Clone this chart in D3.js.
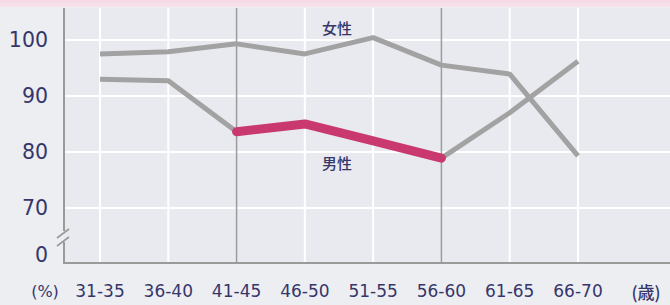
<!DOCTYPE html>
<html>
<head>
<meta charset="utf-8">
<script src="https://cdn.jsdelivr.net/npm/d3@7"></script>
<style>
  html, body { margin: 0; padding: 0; background: #eceef2; }
  svg { display: block; }
</style>
</head>
<body>
<svg id="chart" width="670" height="305"></svg>
<script>
const categories = ["31-35", "36-40", "41-45", "46-50", "51-55", "56-60", "61-65", "66-70"];
const female = [97.5, 97.9, 99.3, 97.5, 100.4, 95.5, 93.9, 79.3];
const male = [93.0, 92.7, 83.6, 85.0, 82.0, 78.9, 87.0, 96.2];
const highlightRange = ["41-45", "56-60"];
const yTicks = [0, 70, 80, 90, 100];
const seriesLabels = ["女性", "男性"];

const svg = d3.select("#chart");
const W = 670, H = 305;
const plotL = 64, plotR = 670, plotT = 8, plotB = 263;

const x = d3.scalePoint().domain(categories).range([100, 578]);
const y = d3.scaleLinear().domain([0, 70, 105.7]).range([255, 208, plotT]);

const navy = "#36366a";
const axisGray = "#9a9a9a";

// top pink band
const defs = svg.append("defs");
const grad = defs.append("linearGradient").attr("id", "pinkband").attr("x1", 0).attr("x2", 0).attr("y1", 0).attr("y2", 1);
grad.append("stop").attr("offset", "0%").attr("stop-color", "#f7d9e5");
grad.append("stop").attr("offset", "100%").attr("stop-color", "#f4e2ea");
svg.append("rect").attr("x", 0).attr("y", 0).attr("width", W).attr("height", 7).attr("fill", "url(#pinkband)");

// plot background
svg.append("rect").attr("x", plotL).attr("y", plotT).attr("width", plotR - plotL).attr("height", plotB - plotT).attr("fill", "#e8eaef");

// horizontal white gridlines
svg.append("g").selectAll("line").data(yTicks.filter(d => d > 0)).join("line")
  .attr("x1", plotL).attr("x2", plotR)
  .attr("y1", d => y(d)).attr("y2", d => y(d))
  .attr("stroke", "#ffffff").attr("stroke-width", 2);

// vertical gridlines
svg.append("g").selectAll("line").data(categories).join("line")
  .attr("x1", d => x(d)).attr("x2", d => x(d))
  .attr("y1", plotT).attr("y2", plotB)
  .attr("stroke", d => highlightRange.includes(d) ? "#9c9c9c" : "#ffffff")
  .attr("stroke-width", d => highlightRange.includes(d) ? 1.5 : 2);

// axes lines
svg.append("line").attr("x1", plotL).attr("x2", plotR).attr("y1", plotB).attr("y2", plotB)
  .attr("stroke", axisGray).attr("stroke-width", 2);
svg.append("line").attr("x1", plotL).attr("x2", plotL).attr("y1", plotT).attr("y2", 231)
  .attr("stroke", axisGray).attr("stroke-width", 2);
svg.append("line").attr("x1", plotL).attr("x2", plotL).attr("y1", 242).attr("y2", plotB + 1)
  .attr("stroke", axisGray).attr("stroke-width", 2);
// break marks
[0, 8].forEach(dy => {
  svg.append("line").attr("x1", 57).attr("y1", 238 + dy).attr("x2", 69).attr("y2", 229 + dy)
    .attr("stroke", axisGray).attr("stroke-width", 1.6);
});

// y tick labels
svg.append("g").selectAll("text").data(yTicks).join("text")
  .attr("x", 48).attr("y", d => y(d))
  .attr("text-anchor", "end").attr("dominant-baseline", "central")
  .attr("font-family", "DejaVu Sans").attr("font-size", 20.5)
  .attr("fill", navy).text(d => d);

// x tick labels
svg.append("g").selectAll("text").data(categories).join("text")
  .attr("x", d => x(d)).attr("y", 291)
  .attr("text-anchor", "middle").attr("dominant-baseline", "central")
  .attr("font-family", "DejaVu Sans").attr("font-size", 17)
  .attr("fill", navy).text(d => d);

svg.append("text").attr("x", 45).attr("y", 291).attr("text-anchor", "middle").attr("dominant-baseline", "central")
  .attr("font-family", "DejaVu Sans").attr("font-size", 16).attr("fill", navy).text("(%)");
svg.append("text").attr("x", 646).attr("y", 291).attr("text-anchor", "middle").attr("dominant-baseline", "central")
  .attr("font-family", "Noto Sans CJK JP").attr("font-size", 17).attr("font-weight", 500).attr("fill", navy).text("(歳)");

// lines
const line = d3.line().x((d, i) => x(categories[i])).y(d => y(d));
const data = [female, male];
svg.append("g").selectAll("path").data(data).join("path")
  .attr("d", d => line(d))
  .attr("fill", "none").attr("stroke", "#a2a2a2").attr("stroke-width", 5)
  .attr("stroke-linejoin", "round").attr("stroke-linecap", "butt");

// highlighted male segment
const i0 = categories.indexOf(highlightRange[0]), i1 = categories.indexOf(highlightRange[1]);
const segLine = d3.line().x(d => x(d.c)).y(d => y(d.v));
const seg = categories.slice(i0, i1 + 1).map((c, k) => ({ c, v: male[i0 + k] }));
svg.append("path").attr("d", segLine(seg))
  .attr("fill", "none").attr("stroke", "#c9386f").attr("stroke-width", 9)
  .attr("stroke-linejoin", "round").attr("stroke-linecap", "round");

// series labels
svg.append("text").attr("x", 337).attr("y", 27).attr("text-anchor", "middle").attr("dominant-baseline", "central")
  .attr("font-family", "Noto Sans CJK JP").attr("font-size", 15).attr("font-weight", 500).attr("fill", navy).text(seriesLabels[0]);
svg.append("text").attr("x", 337).attr("y", 162).attr("text-anchor", "middle").attr("dominant-baseline", "central")
  .attr("font-family", "Noto Sans CJK JP").attr("font-size", 15).attr("font-weight", 500).attr("fill", navy).text(seriesLabels[1]);
</script>
</body>
</html>
